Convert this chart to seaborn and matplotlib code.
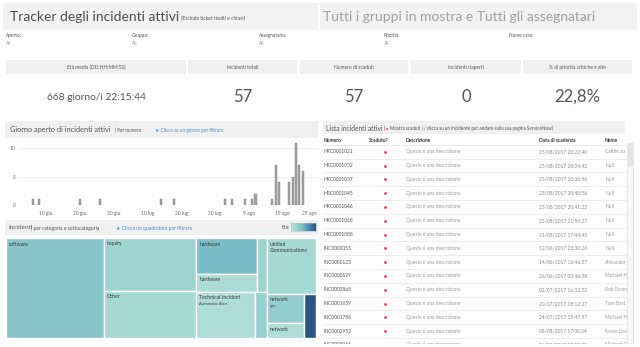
import textwrap

import matplotlib.dates as mdates
import numpy as np
import pandas as pd
import seaborn as sns
from matplotlib import pyplot as plt
from matplotlib.colors import LinearSegmentedColormap, Normalize
from matplotlib.patches import Rectangle

# --- dati ---------------------------------------------------------------
TITOLO = "Tracker degli incidenti attivi"
SOTTOTITOLO = "(Esclude ticket risolti e chiusi)"
TITOLO_DX = "Tutti i gruppi in mostra e Tutti gli assegnatari"

filtri_etichette = ["Aperto:", "Gruppo:", "Assegnatario:", "Priorità:", "Nome caso:"]
filtri_valori = ["All", "All", "All", "All", ""]

kpi_titoli = ["Età media (DD:HH:MM:SS)", "Incidenti totali", "Numero di scaduti",
              "Incidenti riaperti", "% di priorità critiche e alte"]
kpi_valori = ["668 giorno/i 22:15:44", "57", "57", "0", "22,8%"]

giorni_aperti = ["2017-06-06", "2017-06-08", "2017-06-20", "2017-06-26", "2017-07-14",
                 "2017-07-18", "2017-08-02", "2017-08-04", "2017-08-08", "2017-08-10",
                 "2017-08-11", "2017-08-16", "2017-08-17", "2017-08-18", "2017-08-21",
                 "2017-08-22", "2017-08-23", "2017-08-24", "2017-08-25"]
conteggi = [1, 1, 1, 1, 1, 1, 1, 1, 1, 1, 2, 1, 7, 4, 4, 5, 11, 7, 6]
tick_giorni = ["2017-06-10", "2017-06-20", "2017-06-30", "2017-07-10", "2017-07-20",
               "2017-07-30", "2017-08-09", "2017-08-19", "2017-08-29"]
MESI = {6: "giu", 7: "lug", 8: "ago"}

cella_categoria = ["software", "inquiry", "Other", "hardware", "hardware", "hardware",
                   "Technical Incident", "Technical Incident", "Unified Communications",
                   "network", "network", "database"]
cella_sottocategoria = ["", "", "", "", "", "", "Automatic Alert", "", "", "vpn", "", ""]
cella_incidenti = [18, 9, 8, 4, 2, 1, 5, 1, 5, 2, 1, 1]
cella_eta = [750, 600, 550, 850, 520, 600, 500, 650, 550, 670, 500, 1400]
# gerarchia categoria -> sottocategoria (indici delle celle)
albero = [[0], [1], [2], [[3, 4], 5], [6, 7], [8], [9, 10], [11]]

colonne_tabella = ["Numero", "Scaduto?", "Descrizione", "Data di scadenza", "Nome"]
numeri = ["HRC0001021", "HRC0001032", "HRC0001037", "HRC0001045", "HRC0001046",
          "HRC0001068", "HRC0001088", "INC0000053", "INC0000123", "INC0000629",
          "INC0000868", "INC0001659", "INC0001786", "INC0002952", "INC0003066"]
scadenze = ["23/08/2017 20:22:40", "23/08/2017 20:34:42", "23/08/2017 20:36:56",
            "23/08/2017 20:40:56", "23/08/2017 20:41:22", "23/08/2017 21:59:27",
            "31/08/2017 17:44:43", "12/06/2017 23:30:26", "14/06/2017 16:46:37",
            "26/06/2017 03:46:38", "02/07/2017 16:32:32", "20/07/2017 18:12:27",
            "24/07/2017 15:47:57", "08/08/2017 17:00:34", "06/08/2017 07:53:58"]
nomi = ["Caitlin Ju", "Null", "Null", "Null", "Null", "Null", "Null", "Null",
        "Alexander", "Michael H", "Rob Evans", "Tom Bast", "Michael H", "Kevin Lira",
        "Michael O"]
DESCRIZIONE = "Questa è una descrizione"

# --- stile --------------------------------------------------------------
sns.set_theme(style="white")
plt.rcParams["font.family"] = ["Lato", "DejaVu Sans"]

GRIGIO_BANDA = "#f0f0f0"
TESTO = "#555555"
TESTO_CHIARO = "#999999"
BLU = "#4a8fd6"
ROSSO = "#ec3b3b"

W, H = 640, 347
fig = plt.figure(figsize=(6.4, 3.47), dpi=100)
bg = fig.add_axes([0, 0, 1, 1])
bg.set_xlim(0, W)
bg.set_ylim(H, 0)
bg.axis("off")


def px_axes(x0, y0, x1, y1):
    return fig.add_axes([x0 / W, 1 - y1 / H, (x1 - x0) / W, (y1 - y0) / H])


def banda(x0, y0, x1, y1, color=GRIGIO_BANDA):
    bg.add_patch(Rectangle((x0, y0), x1 - x0, y1 - y0, color=color, lw=0, zorder=0))


# titolo
banda(3, 3, 318, 30, "#f2f2f2")
banda(320, 3, 637, 30, "#f2f2f2")
bg.text(10, 17, TITOLO, fontsize=10, color="#4d4d4d", va="center")
bg.text(181, 18.5, SOTTOTITOLO, fontsize=3.5, color=TESTO, va="center")
bg.text(323, 17, TITOLO_DX, fontsize=10, color="#a0a0a0", va="center")

# filtri
for x, lab, val in zip([6, 132, 259, 384, 509], filtri_etichette, filtri_valori):
    bg.text(x, 35, lab, fontsize=3.4, color=TESTO, va="center")
    bg.text(x, 43, val, fontsize=3.4, color=TESTO_CHIARO, va="center")

# KPI
kpi_box = [(6, 186), (188, 297), (300, 408), (411, 521), (523, 632)]
for (x0, x1), tit, val in zip(kpi_box, kpi_titoli, kpi_valori):
    banda(x0, 60, x1, 74)
    bg.text((x0 + x1) / 2, 67, tit, fontsize=3.5, color=TESTO, ha="center", va="center")
    size = 7.3 if len(val) > 8 else 12
    bg.text((x0 + x1) / 2, 97, val, fontsize=size, color=TESTO, ha="center", va="center")

# --- istogramma giorni ----------------------------------------------------
banda(5, 121, 318, 138)
bg.text(10, 129.5, "Giorno aperto di incidenti attivi", fontsize=5.3, color=TESTO, va="center")
bg.text(115, 130, "| Per numero", fontsize=3.3, color=TESTO, va="center")
bg.text(155, 130, "★ Clicca su un giorno per filtrare", fontsize=3.4, color=BLU, va="center")

df = pd.DataFrame({"giorno": mdates.date2num(pd.to_datetime(giorni_aperti)), "n": conteggi})
ax_bar = px_axes(18, 140, 318, 205)
sns.barplot(data=df, x="giorno", y="n", native_scale=True, width=0.6, errorbar=None,
            color="#a3a3a3", edgecolor="#7d7d7d", linewidth=0.3, saturation=1, ax=ax_bar)
t0 = mdates.date2num(pd.Timestamp("2017-06-01"))
ax_bar.set_xlim(t0 + 0.7, t0 + 89.5)
ax_bar.set_ylim(0, 11.5)
tick_pos = mdates.date2num(pd.to_datetime(tick_giorni))
ax_bar.set_xticks(tick_pos)
ax_bar.set_xticklabels([f"{d.day} {MESI[d.month]}" for d in pd.to_datetime(tick_giorni)])
ax_bar.get_xticklabels()[-1].set_ha("right")
ax_bar.set_yticks([0, 5, 10])
ax_bar.tick_params(axis="both", length=0, labelsize=3.5, labelcolor="#666666")
ax_bar.tick_params(axis="x", pad=4)
ax_bar.tick_params(axis="y", pad=2)
ax_bar.set_xlabel("")
ax_bar.set_ylabel("")
for v in [5, 10]:
    ax_bar.axhline(v, color="#eeeeee", lw=0.6, zorder=0)
ax_bar.axhline(0, color="#c8c8c8", lw=0.6, ls=(0, (1, 1)), zorder=0)
for s in ax_bar.spines.values():
    s.set_visible(False)
ax_bar.set_facecolor("none")

# --- treemap ------------------------------------------------------------
banda(5, 220, 318, 235)
bg.text(8, 227.5, "Incidenti", fontsize=4.6, color=TESTO, va="center")
bg.text(31, 228, "| per categoria e sottocategoria", fontsize=3.6, color=TESTO, va="center")
bg.text(116, 228, "★ Clicca un quadratino per filtrare", fontsize=3.6, color=BLU, va="center")
bg.text(281, 227.5, "Età:", fontsize=3.6, color=TESTO, va="center")

cmap = LinearSegmentedColormap.from_list(
    "eta", [(0, "#bde6dc"), (0.3, "#8ecacc"), (0.45, "#7abcc7"), (0.7, "#4f8fb0"), (1, "#2a5584")])
norm = Normalize(400, 1400)

ax_leg = px_axes(291, 223, 316, 231)
ax_leg.imshow(np.linspace(0, 1, 60)[None, :], cmap=cmap, aspect="auto")
ax_leg.set_xticks([])
ax_leg.set_yticks([])
for s in ax_leg.spines.values():
    s.set_color("#bbbbbb")
    s.set_linewidth(0.4)

TW, TH = 310, 100
ax_tm = px_axes(6, 238, 6 + TW, 238 + TH)
ax_tm.set_xlim(0, TW)
ax_tm.set_ylim(TH, 0)
ax_tm.axis("off")


def valore(nodo):
    if isinstance(nodo, list):
        return sum(valore(n) for n in nodo)
    return cella_incidenti[nodo]


def peggiore(riga, lato):
    s = sum(riga)
    return max(max(lato * lato * r / (s * s), s * s / (lato * lato * r)) for r in riga)


def squarify(aree, x, y, dx, dy):
    rects, i = [], 0
    while i < len(aree):
        lato = min(dx, dy)
        riga = [aree[i]]
        i += 1
        while i < len(aree) and peggiore(riga + [aree[i]], lato) <= peggiore(riga, lato):
            riga.append(aree[i])
            i += 1
        s = sum(riga)
        if dx >= dy:
            w, yy = s / dy, y
            for r in riga:
                rects.append((x, yy, w, r / w))
                yy += r / w
            x, dx = x + w, dx - w
        else:
            h, xx = s / dx, x
            for r in riga:
                rects.append((xx, y, r / h, h))
                xx += r / h
            y, dy = y + h, dy - h
    return rects


def slice_dice(nodo, x, y, dx, dy, orizz, out):
    if not isinstance(nodo, list):
        out.append((nodo, x, y, dx, dy))
        return
    tot = valore(nodo)
    for figlio in nodo:
        f = valore(figlio) / tot
        if orizz:
            slice_dice(figlio, x, y, dx * f, dy, not orizz, out)
            x += dx * f
        else:
            slice_dice(figlio, x, y, dx, dy * f, not orizz, out)
            y += dy * f


scala = TW * TH / sum(cella_incidenti)
ordine = sorted(range(len(albero)), key=lambda k: -valore(albero[k]))
celle = []
for k, (x, y, dx, dy) in zip(ordine, squarify([valore(albero[k]) * scala for k in ordine], 0, 0, TW, TH)):
    slice_dice(albero[k], x, y, dx, dy, dx >= dy, celle)

for idx, x, y, dx, dy in celle:
    ax_tm.add_patch(Rectangle((x, y), dx, dy, facecolor=cmap(norm(cella_eta[idx])),
                              edgecolor="white", lw=1.0))
    if dx > 25:
        testo = textwrap.fill(cella_categoria[idx], width=int(dx / 2.6))
        ax_tm.text(x + 3, y + 3.5, testo, fontsize=3.7, color="#3a3a3a", va="top", linespacing=1.4)
        if cella_sottocategoria[idx]:
            ax_tm.text(x + 3, y + 10.5, cella_sottocategoria[idx], fontsize=3.0, color="#3a3a3a", va="top")

# --- tabella ------------------------------------------------------------
banda(323, 121, 625, 134)
bg.text(326, 128, "Lista incidenti attivi", fontsize=4.8, color=TESTO, va="center")
bg.text(384, 128.5, "(", fontsize=3.3, color=TESTO, va="center")
bg.text(386, 128.5, "●", fontsize=2.6, color=ROSSO, va="center")
bg.text(389.5, 128.5, "Mostra scaduti // clicca su un incidente per andare sulla sua pagina ServiceNow)",
        fontsize=3.3, color=TESTO, va="center")

col_x = [324, 369, 406, 539, 605]
for x, c in zip(col_x, colonne_tabella):
    bg.text(x, 140, c, fontsize=3.5, color="#333333", va="center", fontweight="bold")
bg.plot([322, 626], [145, 145], color="#e2e2e2", lw=0.5)

riga_h = 13.8
for i, (num, data, nome) in enumerate(zip(numeri, scadenze, nomi)):
    y = 151.7 + i * riga_h
    bg.text(col_x[0], y, num, fontsize=3.5, color="#555555", va="center")
    bg.plot(385, y, "o", color=ROSSO, ms=2.0, mew=0)
    bg.text(col_x[2], y, DESCRIZIONE, fontsize=3.5, color=TESTO_CHIARO, va="center")
    bg.text(col_x[3], y, data, fontsize=3.5, color="#888888", va="center")
    bg.text(col_x[4], y, nome, fontsize=3.5, color=TESTO_CHIARO, va="center")
    bg.plot([322, 626], [y + 6.9, y + 6.9], color="#e6e6e6", lw=0.5)

# barra di scorrimento e taglio inferiore
bg.add_patch(Rectangle((626.5, 143), 10, 204, facecolor="white", edgecolor="none", zorder=5))
bg.add_patch(Rectangle((627, 143), 6, 200, facecolor="#f7f7f7", edgecolor="#d8d8d8", lw=0.4, zorder=6))
bg.add_patch(Rectangle((627.5, 144), 5, 22, facecolor="#e4e4e4", edgecolor="none", zorder=7))
bg.add_patch(Rectangle((320, 343.5), 320, 5, facecolor="white", edgecolor="none", zorder=5))

fig.savefig("out.png", dpi=100)
